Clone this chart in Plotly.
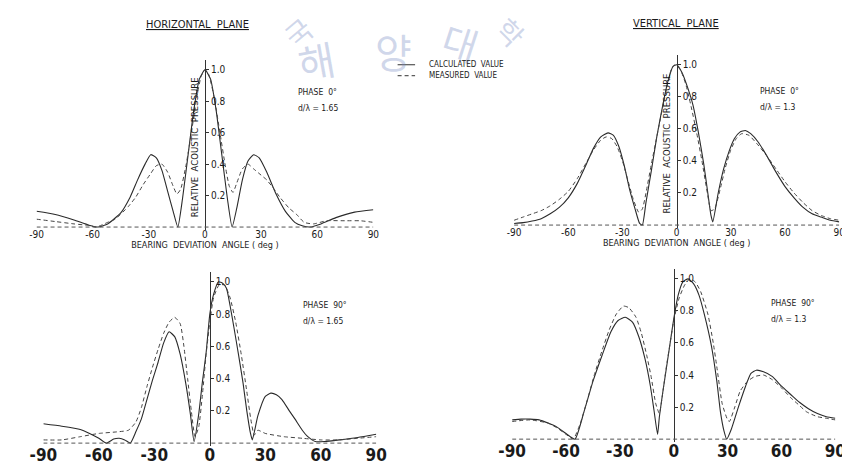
import plotly.graph_objects as go

W, H = 850, 465

# ---------------- data ----------------
angle_ticks = [-90, -60, -30, 0, 30, 60, 90]
angle_labels = ["-90", "-60", "-30", "0", "30", "60", "90"]
p_ticks = [0.2, 0.4, 0.6, 0.8, 1.0]
p_labels = ["0.2", "0.4", "0.6", "0.8", "1.0"]

# Horizontal plane, phase 0 deg, d/lambda = 1.65
h0_calc_x = [-90, -80, -70, -62, -57, -52, -45, -40, -36, -32, -29, -26, -23, -20, -17, -14.5,
             -12, -9, -6, -3, 0, 3, 6, 9, 12, 14.5, 17, 20, 23, 26, 29, 33, 38, 43, 48, 52, 56,
             62, 70, 80, 90]
h0_calc_y = [0.10, 0.08, 0.045, 0.012, 0.0, 0.02, 0.09, 0.19, 0.30, 0.40, 0.46, 0.44, 0.36, 0.23,
             0.10, 0.0, 0.18, 0.46, 0.74, 0.94, 1.0, 0.94, 0.74, 0.46, 0.18, 0.0, 0.12, 0.30,
             0.42, 0.46, 0.44, 0.35, 0.21, 0.10, 0.03, 0.008, 0.0, 0.02, 0.06, 0.095, 0.11]
h0_meas_x = [-90, -80, -70, -62, -58, -52, -48, -41, -37, -33, -29, -26, -23, -20, -17, -15,
             -13, -10, -7, -4, -2, 0, 2, 5, 8, 11, 13, 15, 17, 20, 23, 26, 30, 33, 37, 40, 45, 49,
             53, 58, 65, 75, 83, 90]
h0_meas_y = [0.05, 0.035, 0.02, 0.01, 0.0, 0.03, 0.05, 0.13, 0.19, 0.27, 0.34, 0.39, 0.40, 0.35,
             0.26, 0.21, 0.24, 0.40, 0.62, 0.85, 0.96, 1.0, 0.97, 0.82, 0.60, 0.38, 0.26, 0.22,
             0.28, 0.37, 0.40, 0.37, 0.33, 0.30, 0.24, 0.19, 0.12, 0.08, 0.03, 0.02, 0.04, 0.04,
             0.04, 0.03]

# Vertical plane, phase 0 deg, d/lambda = 1.3
v0_calc_x = [-90, -85, -80, -75, -70, -65, -60, -55, -50, -46, -42, -38, -35, -32, -29, -26, -23,
             -20.5, -19, -17, -14, -11, -8, -5, -2, 0, 3, 6, 9, 12, 15, 17, 19, 20, 23, 26, 29,
             32, 35, 38, 41, 45, 50, 55, 60, 65, 70, 75, 80, 85, 90]
v0_calc_y = [0.01, 0.015, 0.025, 0.04, 0.07, 0.11, 0.17, 0.26, 0.38, 0.48, 0.55, 0.575, 0.56,
             0.49, 0.37, 0.22, 0.10, 0.01, 0.0, 0.14, 0.34, 0.55, 0.73, 0.89, 0.99, 1.0, 0.95,
             0.86, 0.75, 0.58, 0.38, 0.22, 0.06, 0.02, 0.20, 0.35, 0.46, 0.54, 0.58, 0.59, 0.57,
             0.52, 0.43, 0.33, 0.24, 0.17, 0.11, 0.07, 0.05, 0.03, 0.02]
v0_meas_x = [-90, -85, -80, -75, -70, -65, -60, -55, -50, -46, -42, -39, -36, -33, -30, -27, -24,
             -21, -19, -17, -14, -11, -8, -5, -3, -1, 2, 5, 8, 11, 14, 17, 19, 21, 24, 27, 30, 33,
             36, 40, 45, 50, 55, 60, 65, 70, 75, 80, 85, 90]
v0_meas_y = [0.03, 0.05, 0.07, 0.09, 0.12, 0.16, 0.21, 0.29, 0.39, 0.47, 0.53, 0.55, 0.54, 0.49,
             0.40, 0.28, 0.16, 0.08, 0.10, 0.20, 0.38, 0.55, 0.72, 0.88, 0.97, 1.0, 0.97, 0.88,
             0.74, 0.58, 0.40, 0.20, 0.09, 0.10, 0.22, 0.36, 0.47, 0.54, 0.57, 0.56, 0.50, 0.43,
             0.35, 0.27, 0.20, 0.14, 0.09, 0.06, 0.04, 0.03]

# Horizontal plane, phase 90 deg, d/lambda = 1.65
h90_calc_x = [-90, -80, -70, -65, -60, -56, -52, -49, -46, -43, -40, -37, -34, -31, -28, -25, -22,
              -19, -16, -13, -10.5, -8.5, -6, -4, -2, 0, 2, 4.7, 7, 9, 11, 13, 15.5, 18, 20, 22,
              23, 26, 30, 33, 36, 39, 43, 46, 50, 53, 57, 62, 70, 80, 90]
h90_calc_y = [0.12, 0.105, 0.085, 0.06, 0.03, 0.0, 0.025, 0.03, 0.02, 0.0, 0.07, 0.15, 0.27, 0.39,
              0.50, 0.62, 0.69, 0.66, 0.55, 0.37, 0.18, 0.01, 0.18, 0.38, 0.56, 0.80, 0.92, 1.0,
              0.99, 0.96, 0.85, 0.72, 0.55, 0.37, 0.20, 0.06, 0.02, 0.17, 0.29, 0.31, 0.30, 0.27,
              0.20, 0.15, 0.08, 0.04, 0.01, 0.01, 0.02, 0.035, 0.055]
h90_meas_x = [-90, -80, -70, -60, -50, -44, -40, -37, -34, -31, -28, -25, -22, -19, -16, -14, -12,
              -10, -8, -6, -4, -2, 0, 2, 5, 8, 11, 14, 17, 20, 22, 24, 26, 30, 40, 50, 60, 70, 80,
              90]
h90_meas_y = [0.02, 0.02, 0.04, 0.06, 0.07, 0.08, 0.13, 0.22, 0.35, 0.47, 0.58, 0.68, 0.75, 0.78,
              0.74, 0.60, 0.40, 0.20, 0.04, 0.10, 0.30, 0.55, 0.75, 0.90, 0.98, 0.98, 0.90, 0.75,
              0.55, 0.32, 0.16, 0.05, 0.08, 0.06, 0.04, 0.03, 0.02, 0.02, 0.03, 0.04]

# Vertical plane, phase 90 deg, d/lambda = 1.3
v90_calc_x = [-90, -85, -80, -75, -70, -65, -60, -55, -50, -45, -40, -35, -31, -27, -23, -19.5,
              -16, -13, -11, -9, -8, -6, -4, -2, 0, 2.5, 5, 8, 11, 14, 17, 21, 24, 26, 28, 29.5,
              32, 36, 40, 43, 46, 50, 55, 60, 65, 70, 75, 80, 85, 90]
v90_calc_y = [0.12, 0.125, 0.125, 0.12, 0.10, 0.075, 0.035, 0.0, 0.17, 0.36, 0.52, 0.67, 0.74,
              0.76, 0.73, 0.64, 0.50, 0.33, 0.18, 0.03, 0.14, 0.30, 0.45, 0.60, 0.75, 0.90, 0.98,
              1.0, 0.97, 0.90, 0.78, 0.58, 0.36, 0.17, 0.05, 0.0, 0.06, 0.20, 0.33, 0.41, 0.43,
              0.42, 0.39, 0.33, 0.28, 0.23, 0.19, 0.16, 0.14, 0.13]
v90_meas_x = [-90, -80, -70, -65, -60, -56, -52, -48, -44, -40, -36, -32, -28, -25, -21, -18, -15,
              -12.6, -10, -8, -6, -4, -2, 0, 3, 6, 9, 12, 15, 19, 22, 24, 27, 30, 31, 34, 37, 41,
              45, 50, 55, 60, 65, 70, 74, 80, 85, 90]
v90_meas_y = [0.11, 0.12, 0.10, 0.07, 0.03, 0.0, 0.10, 0.25, 0.41, 0.55, 0.68, 0.78, 0.83, 0.82,
              0.76, 0.66, 0.52, 0.39, 0.22, 0.16, 0.30, 0.46, 0.60, 0.74, 0.88, 0.96, 1.0, 0.98,
              0.92, 0.78, 0.60, 0.45, 0.22, 0.12, 0.11, 0.20, 0.30, 0.36, 0.39, 0.40, 0.37, 0.32,
              0.26, 0.21, 0.17, 0.14, 0.13, 0.12]

panel_titles = ["HORIZONTAL  PLANE", "VERTICAL  PLANE"]
phase_notes = [("PHASE  0°", "d/λ = 1.65"), ("PHASE  0°", "d/λ = 1.3"),
               ("PHASE  90°", "d/λ = 1.65"), ("PHASE  90°", "d/λ = 1.3")]
legend_names = ["CALCULATED  VALUE", "MEASURED  VALUE"]
x_title = "BEARING  DEVIATION  ANGLE ( deg )"
y_title = "RELATIVE  ACOUSTIC  PRESSURE"

series = [
    (h0_calc_x, h0_calc_y, h0_meas_x, h0_meas_y),
    (v0_calc_x, v0_calc_y, v0_meas_x, v0_meas_y),
    (h90_calc_x, h90_calc_y, h90_meas_x, h90_meas_y),
    (v90_calc_x, v90_calc_y, v90_meas_x, v90_meas_y),
]

# ---------------- layout geometry (pixels) ----------------
# (px of -90, px of +90, px of value 0, px of value 1.0)
geom = [(15, 362, 220, 62), (507, 842, 218, 57), (22, 365, 437, 275), (505, 838, 433, 272)]
note_pos = [(282, 84), (758, 83), (287, 298), (770, 296)]
YMIN, YMAX = -0.02, 1.06

FONT = "DejaVu Sans Condensed, Liberation Sans Narrow, sans-serif"
NARROW = "Liberation Sans Narrow, DejaVu Sans Condensed, sans-serif"
INK = "#1a1a1a"

fig = go.Figure()
layout = dict(width=W, height=H, margin=dict(l=0, r=0, t=0, b=0), autosize=False,
              paper_bgcolor="white", plot_bgcolor="rgba(0,0,0,0)", showlegend=False,
              font=dict(family=FONT, color=INK))
shapes, annotations = [], []


def paper_text(text, xpx, ypx, size, xanchor="left", angle=0, family=FONT, color=INK):
    return dict(text=text, x=xpx / W, y=1 - ypx / H, xref="paper", yref="paper",
                xanchor=xanchor, yanchor="middle", showarrow=False, textangle=angle,
                font=dict(family=family, size=size, color=color))


# faint library watermark (behind everything)
for ch, x, y, ang, sz in [("국", 284, 24, -40, 28), ("해", 303, 52, -10, 40), ("양", 383, 43, 0, 40),
                          ("대", 452, 34, 18, 38), ("학", 504, 24, 45, 28)]:
    annotations.append(paper_text(ch, x, y, sz, xanchor="center", angle=ang,
                                  family="Noto Sans CJK KR", color="rgba(120,140,195,0.35)"))

for i, (g, s) in enumerate(zip(geom, series)):
    n = "" if i == 0 else str(i + 1)
    xa, ya = "x" + n, "y" + n
    x0, x1, y0, y1 = g
    span = y0 - y1
    top = y0 - YMAX * span
    bot = y0 - YMIN * span
    zero_px = (x0 + x1) / 2
    big = i >= 2

    layout["xaxis" + n] = dict(
        domain=[x0 / W, x1 / W], range=[-90, 90], anchor="free", position=1 - y0 / H,
        showline=False, showgrid=False, zeroline=False, ticks="",
        tickvals=angle_ticks, ticktext=angle_labels,
        tickfont=dict(family=NARROW if big else FONT, size=17 if big else 10, color=INK,
                      weight="bold" if big else "normal"),
        title=dict(text="" if big else x_title, standoff=2,
                   font=dict(family=FONT, size=9, color=INK)),
    )
    layout["yaxis" + n] = dict(
        domain=[1 - bot / H, 1 - top / H], range=[YMIN, YMAX], anchor="free",
        position=zero_px / W, side="right", showline=True, linecolor="#333", linewidth=1,
        showgrid=False, zeroline=False, ticks="outside", ticklen=3, tickcolor="#333",
        tickvals=p_ticks, ticktext=p_labels, tickfont=dict(size=10, color=INK),
    )

    # dashed baseline (x axis line)
    shapes.append(dict(type="line", xref=xa, yref=ya, x0=-90, x1=90, y0=0, y1=0,
                       line=dict(color="#555", width=1, dash="4px,3px")))

    cx, cy, mx, my = s
    fig.add_trace(go.Scatter(x=cx, y=cy, xaxis=xa, yaxis=ya, mode="lines",
                             name=legend_names[0], line=dict(color="#2a2a2a", width=1.1,
                                                             shape="spline", smoothing=0.5)))
    fig.add_trace(go.Scatter(x=mx, y=my, xaxis=xa, yaxis=ya, mode="lines",
                             name=legend_names[1], line=dict(color="#444", width=1,
                                                             dash="4px,3px",
                                                             shape="spline", smoothing=0.5)))

    # y-axis title for the upper panels
    if not big:
        annotations.append(dict(text=y_title, xref=xa, yref=ya, x=0, y=0.51, xanchor="right",
                                yanchor="middle", xshift=-3, textangle=-90, showarrow=False,
                                font=dict(family=FONT, size=9.5, color=INK)))
    px_, py_ = note_pos[i]
    for k, t in enumerate(phase_notes[i]):
        annotations.append(paper_text(t, px_, py_ + 16 * k, 8.5))

# panel headings
for t, xc, yc in [(panel_titles[0], 181, 17), (panel_titles[1], 674, 16)]:
    annotations.append(paper_text("<u>" + t + "</u>", xc, yc, 11, xanchor="center"))

# legend (drawn manually)
for k, (nm, dash) in enumerate(zip(legend_names, ["solid", "4px,3px"])):
    ypx = 57 + 11 * k
    yy = 1 - ypx / H
    shapes.append(dict(type="line", xref="paper", yref="paper", x0=387 / W, x1=405 / W,
                       y0=yy, y1=yy, line=dict(color="#333", width=1, dash=dash)))
    annotations.append(paper_text(nm, 417, ypx, 8))

layout["shapes"] = shapes
layout["annotations"] = annotations
fig.update_layout(**layout)
fig.write_html("out.html")
